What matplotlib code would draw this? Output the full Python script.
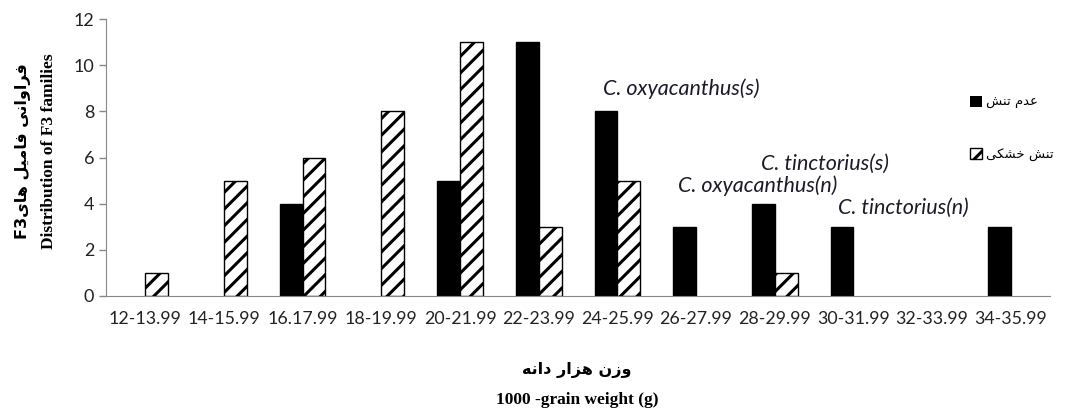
import numpy as np
import matplotlib
matplotlib.use("Agg")
import matplotlib.pyplot as plt

# داده ها
categories = ["12-13.99", "14-15.99", "16.17.99", "18-19.99", "20-21.99", "22-23.99",
              "24-25.99", "26-27.99", "28-29.99", "30-31.99", "32-33.99", "34-35.99"]
no_stress = [0, 0, 4, 0, 5, 11, 8, 3, 4, 3, 0, 3]      # عدم تنش
drought = [1, 5, 6, 8, 11, 3, 5, 0, 1, 0, 0, 0]        # تنش خشکی
notes = ["C. oxyacanthus(s)", "C. tinctorius(s)", "C. oxyacanthus(n)", "C. tinctorius(n)"]

# presentation forms (iso, fin, ini, med) - matplotlib has no arabic shaping
F = {
    "ا": ("\uFE8D", "\uFE8E", None, None),
    "د": ("\uFEA9", "\uFEAA", None, None),
    "ر": ("\uFEAD", "\uFEAE", None, None),
    "ز": ("\uFEAF", "\uFEB0", None, None),
    "و": ("\uFEED", "\uFEEE", None, None),
    "ف": ("\uFED1", "\uFED2", "\uFED3", "\uFED4"),
    "ن": ("\uFEE5", "\uFEE6", "\uFEE7", "\uFEE8"),
    "م": ("\uFEE1", "\uFEE2", "\uFEE3", "\uFEE4"),
    "ل": ("\uFEDD", "\uFEDE", "\uFEDF", "\uFEE0"),
    "ه": ("\uFEE9", "\uFEEA", "\uFEEB", "\uFEEC"),
    "ع": ("\uFEC9", "\uFECA", "\uFECB", "\uFECC"),
    "ت": ("\uFE95", "\uFE96", "\uFE97", "\uFE98"),
    "ش": ("\uFEB5", "\uFEB6", "\uFEB7", "\uFEB8"),
    "خ": ("\uFEA5", "\uFEA6", "\uFEA7", "\uFEA8"),
    "ک": ("\uFB8E", "\uFB8F", "\uFB90", "\uFB91"),
    "ی": ("\uFBFC", "\uFBFD", "\uFBFE", "\uFBFF"),
}


def fa(s):
    out = []
    for i, c in enumerate(s):
        if c not in F:
            out.append(c)
            continue
        prev = s[i - 1] if i > 0 else ""
        nxt = s[i + 1] if i + 1 < len(s) else ""
        jp = prev in F and F[prev][2] is not None
        jn = nxt in F and F[c][2] is not None
        if jp and jn:
            out.append(F[c][3])
        elif jp:
            out.append(F[c][1])
        elif jn:
            out.append(F[c][2])
        else:
            out.append(F[c][0])
    return "".join(reversed(out))


plt.rcParams["hatch.linewidth"] = 2.2

fig = plt.figure(figsize=(10.65, 4.09), dpi=100)
ax = fig.add_axes([0.0995, 0.2763, 0.8865, 0.6772])

x = np.arange(len(categories))
w = 0.29
# no outline on empty bars
ax.bar(x - w / 2, no_stress, w, color="black", edgecolor="black",
       linewidth=[1 if v else 0 for v in no_stress], label=fa("عدم تنش"))
ax.bar(x + w / 2, drought, w, color="white", edgecolor="black",
       linewidth=[1 if v else 0 for v in drought], hatch="//", label=fa("تنش خشکی"))

ax.set_xlim(-0.5, len(categories) - 0.5)
ax.set_ylim(0, 12)
ax.set_yticks(range(0, 13, 2))
ax.set_xticks(x)
ax.set_xticklabels(categories, fontsize=12.8, color="#222222", family="Lato")
ax.tick_params(axis="y", labelsize=13, colors="#888888", labelcolor="#222222",
               length=5, width=1)
for t in ax.get_yticklabels():
    t.set_family("Lato")
ax.tick_params(axis="x", length=0, pad=11)
for s in ["top", "right"]:
    ax.spines[s].set_visible(False)
ax.spines["left"].set_color("#888888")
ax.spines["bottom"].set_color("#888888")

# نام گونه ها
note_xy = [(6.81, 9.0), (8.64, 5.72), (7.78, 4.8), (9.63, 3.8)]
for txt, (nx, ny) in zip(notes, note_xy):
    ax.text(nx, ny, txt, ha="center", va="center", fontsize=15.5, style="italic",
            family="Lato", color="#1a1a2a")

leg = fig.legend(loc="upper left", bbox_to_anchor=(0.9, 0.795), frameon=False,
                 handlelength=0.9, handleheight=0.9, handletextpad=0.3,
                 labelspacing=3.0, prop={"family": "DejaVu Sans", "size": 9.5})

fig.text(0.022, 0.63, "F3" + fa("فراوانی فامیل های"), rotation=90, ha="center",
         va="center", fontsize=11.5, fontweight="bold", family="DejaVu Sans")
fig.text(0.046, 0.63, "Distribution of F3 families", rotation=90, ha="center",
         va="center", fontsize=12.5, fontweight="bold", family="Liberation Serif")
fig.text(0.542, 0.095, fa("وزن هزار دانه"), ha="center", va="center",
         fontsize=11.5, fontweight="bold", family="DejaVu Sans")
fig.text(0.542, 0.022, "1000 -grain weight (g)", ha="center", va="center",
         fontsize=12.5, fontweight="bold", family="Liberation Serif")

fig.savefig("out.png", dpi=100)
